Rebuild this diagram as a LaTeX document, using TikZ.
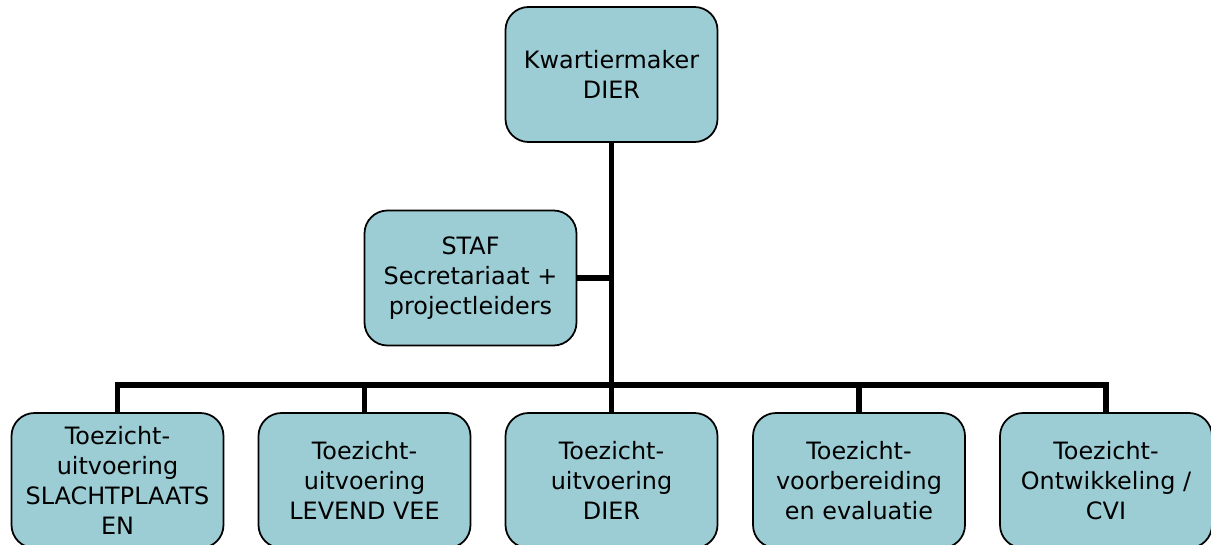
\documentclass[tikz,border=0pt]{standalone}
\usepackage{fontspec}
\setmainfont{DejaVu Sans}
\usepackage{tikz}

\definecolor{boxteal}{RGB}{156,205,212}

\begin{document}
\begin{tikzpicture}[
    orgbox/.style={draw=black,line width=1pt,fill=boxteal,rounded corners=0.46cm,
        minimum width=4.24cm,minimum height=2.7cm,align=center,inner sep=0pt,
        font=\fontsize{13.6}{17}\selectfont},
    orgline/.style={line width=3.1pt,line join=miter}]
\clip (0,0) rectangle (24.22,-10.88);
\useasboundingbox (0,0) rectangle (24.22,-10.88);

% top of the chart and the staff box
\node[orgbox] (top) at (12.23,-1.49) {Kwartiermaker\\DIER};
\node[orgbox] (staf) at (9.41,-5.56) {STAF\\Secretariaat +\\projectleiders};

% bottom row
\node[orgbox] (sub1) at (2.35,-9.61) {Toezicht-\\uitvoering\\SLACHTPLAATS\\EN};
\node[orgbox] (sub2) at (7.29,-9.61) {Toezicht-\\uitvoering\\LEVEND VEE};
\node[orgbox] (sub3) at (12.23,-9.61) {Toezicht-\\uitvoering\\DIER};
\node[orgbox] (sub4) at (17.18,-9.61) {Toezicht-\\voorbereiding\\en evaluatie};
\node[orgbox] (sub5) at (22.12,-9.61) {Toezicht-\\Ontwikkeling /\\CVI};

% trunk and bus
\coordinate (bus) at (12.26,-7.70);
\draw[orgline] (top.south) -- (top.south |- bus);
\draw[orgline] (staf.east) -- (staf.east -| top.south);
\foreach \n in {1,...,5}
  \draw[orgline] (sub\n.north) |- (bus);

\end{tikzpicture}
\end{document}
